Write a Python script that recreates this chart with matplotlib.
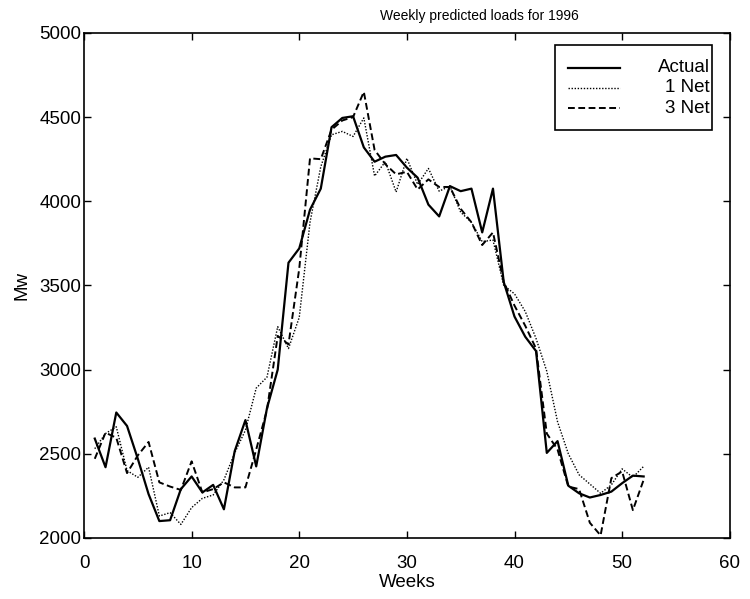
import matplotlib
matplotlib.use('Agg')
import matplotlib.pyplot as plt
import numpy as np
from matplotlib.lines import Line2D
from matplotlib.patches import Rectangle

plt.rcParams['font.family'] = ['Liberation Sans', 'DejaVu Sans']

weeks = np.arange(1, 53)

actual = [2590, 2420, 2745, 2665, 2470, 2260, 2100, 2105, 2290, 2365,
          2270, 2315, 2170, 2515, 2700, 2425, 2770, 3000, 3635, 3720,
          3950, 4075, 4440, 4495, 4505, 4320, 4235, 4265, 4275, 4200,
          4140, 3980, 3910, 4090, 4060, 4075, 3815, 4075, 3520, 3315,
          3195, 3110, 2505, 2575, 2310, 2265, 2240, 2255, 2275, 2325,
          2370, 2365]

net1 = [2530, 2620, 2660, 2400, 2360, 2420, 2130, 2150, 2080, 2180,
        2235, 2255, 2345, 2505, 2640, 2890, 2955, 3255, 3125, 3310,
        3875, 4205, 4395, 4415, 4385, 4495, 4150, 4235, 4055, 4255,
        4100, 4195, 4060, 4090, 3935, 3875, 3760, 3770, 3500, 3450,
        3345, 3185, 2990, 2690, 2500, 2375, 2320, 2265, 2315, 2410,
        2360, 2425]

net3 = [2470, 2625, 2595, 2385, 2490, 2570, 2330, 2305, 2285, 2455,
        2270, 2290, 2330, 2300, 2300, 2525, 2760, 3200, 3150, 3600,
        4255, 4250, 4425, 4480, 4500, 4650, 4305, 4220, 4160, 4175,
        4070, 4130, 4085, 4085, 3955, 3875, 3740, 3815, 3520, 3380,
        3260, 3125, 2620, 2525, 2305, 2290, 2090, 2015, 2355, 2395,
        2165, 2345]

labels = ['Actual', '1 Net', '3 Net']

fig = plt.figure(figsize=(7.5, 5.99), dpi=100)
ax = fig.add_axes([0.112, 0.102, 0.861, 0.843])

solid_style = dict(color='black', lw=1.6, linestyle='-')
dot_style = dict(color='black', lw=1.0, linestyle=(0, (1, 1.2)))
dash_style = dict(color='black', lw=1.4, linestyle=(0, (3.5, 1.8)))

ax.plot(weeks, actual, **solid_style)
ax.plot(weeks, net1, **dot_style)
ax.plot(weeks, net3, **dash_style)

ax.set_xlim(0, 60)
ax.set_ylim(2000, 5000)
ax.set_xticks(np.arange(0, 61, 10))
ax.set_yticks(np.arange(2000, 5001, 500))
ax.tick_params(direction='in', top=True, right=True, length=5, width=1,
               labelsize=13.5)
ax.tick_params(axis='x', pad=12)
ax.tick_params(axis='y', pad=2)
for s in ax.spines.values():
    s.set_linewidth(1.2)

ax.set_xlabel('Weeks', fontsize=13.5, labelpad=2)
ax.set_ylabel('Mw', fontsize=13.5, labelpad=6)
ax.text(0.613, 1.02, 'Weekly predicted loads for 1996', transform=ax.transAxes,
        ha='center', va='bottom', fontsize=10)

# legend drawn by hand so the labels sit right-aligned like the original
ax.add_patch(Rectangle((0.729, 0.808), 0.243, 0.168, transform=ax.transAxes,
                       facecolor='white', edgecolor='black', lw=1.2, zorder=5))
rows_y = [0.931, 0.891, 0.851]
for y, lab, st in zip(rows_y, labels, [solid_style, dot_style, dash_style]):
    ax.add_line(Line2D([0.749, 0.830], [y, y], transform=ax.transAxes,
                       zorder=6, **st))
    ax.text(0.969, y, lab, transform=ax.transAxes, ha='right', va='center',
            fontsize=13.5, zorder=6)

fig.savefig('out.png', dpi=100)
